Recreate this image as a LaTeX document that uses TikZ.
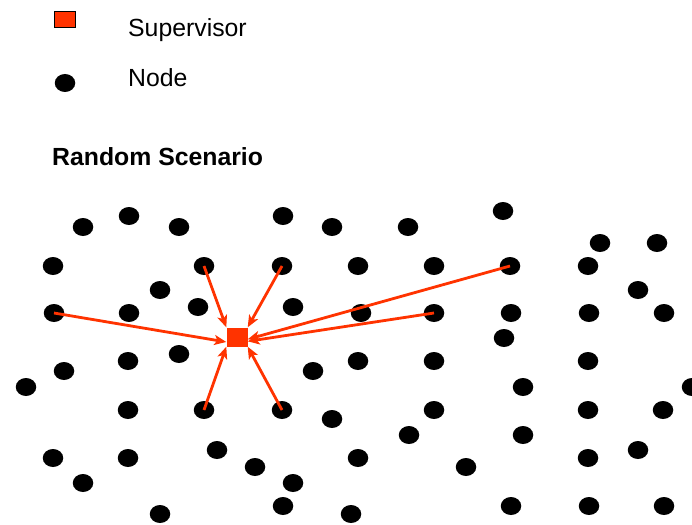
\documentclass[tikz,border=0pt]{standalone}
\usepackage{fontspec}
\setmainfont{Liberation Sans}
\usetikzlibrary{arrows.meta,shapes.geometric}
\definecolor{supred}{HTML}{FF3300}
\tikzset{
  dot/.style={ellipse,fill=black,inner sep=0pt,minimum width=20.5pt,minimum height=18pt},
  supbox/.style={rectangle,fill=supred,inner sep=0pt,minimum width=21pt,minimum height=19pt},
  legendbox/.style={rectangle,fill=supred,draw=black,line width=1.2pt,inner sep=0pt,minimum width=21pt,minimum height=16pt},
  legendtext/.style={anchor=base west,inner sep=0pt,font=\fontsize{24.8}{28}\selectfont},
  titletext/.style={anchor=base west,inner sep=0pt,font=\fontsize{24.8}{28}\selectfont\bfseries},
  link/.style={draw=supred,line width=2.8pt,-{Stealth[length=12pt,width=10pt,inset=3pt]}}
}
\begin{document}
\begin{tikzpicture}[x=1pt,y=-1pt]
\useasboundingbox (0,0) rectangle (692,524);

% legend
\node[legendbox] (legsup) at (65,19.5) {};
\node[legendtext] (legsuptxt) at (128,37) {Supervisor};
\node[dot] (legnode) at (65,83) {};
\node[legendtext] (legnodetxt) at (128,87) {Node};
\node[titletext] (title) at (52,165) {Random Scenario};

% field of nodes
\foreach \x/\y [count=\i] in {
  83/227,129/216,179/227,283/216,332/227,408/227,503/211,600/243,657/243,
  53/266,358/266,434/266,588/266,160/290,638/290,
  198/307,293/307,129/313,361/313,511/313,589/313,664/313,504/338,
  179/354,128/361,358/361,434/361,588/361,64/371,313/371,
  26/387,523/387,692/387,128/410,434/410,588/410,663/410,332/419,
  409/435,523/435,217/450,638/450,53/458,128/458,358/458,588/458,
  255/467,466/467,83/483,293/483,283/506,511/506,589/506,664/506,
  160/514,351/514}
  \node[dot] (n\i) at (\x,\y) {};

% nodes linked to the supervisor
\node[dot] (la) at (54,313) {};
\node[dot] (lb) at (204,266) {};
\node[dot] (lc) at (282,266) {};
\node[dot] (ld) at (510,266) {};
\node[dot] (le) at (434,313) {};
\node[dot] (lf) at (204,410) {};
\node[dot] (lg) at (282,410) {};

% supervisor
\node[supbox] (sup) at (237,337) {};

% links
\draw[link] (la.center) -- (sup.205);
\draw[link] (lb.center) -- (sup.north west);
\draw[link] (lc.center) -- (sup.north east);
\draw[link] (ld.center) -- (sup.-12);
\draw[link] (le.center) -- (sup.-22);
\draw[link] (lf.center) -- (sup.south west);
\draw[link] (lg.center) -- (sup.south east);
\end{tikzpicture}
\end{document}
